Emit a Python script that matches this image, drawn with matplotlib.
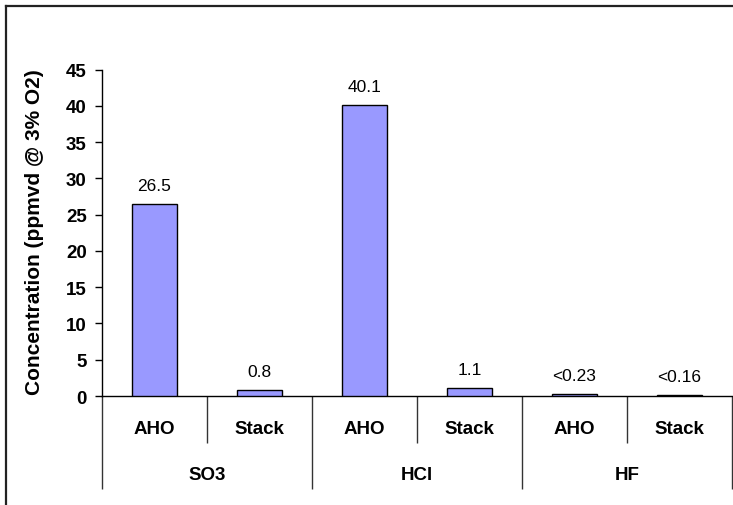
import matplotlib
matplotlib.use('Agg')
import matplotlib.pyplot as plt
from matplotlib.lines import Line2D
from matplotlib.ticker import FixedLocator

plt.rcParams['font.family'] = ['Liberation Sans', 'DejaVu Sans']

# data
groups = ['SO3', 'HCl', 'HF']
locations = ['AHO', 'Stack']
values = [26.5, 0.8, 40.1, 1.1, 0.23, 0.16]
value_labels = ['26.5', '0.8', '40.1', '1.1', '<0.23', '<0.16']
y_ticks = [0, 5, 10, 15, 20, 25, 30, 35, 40, 45]

W, H = 733, 506
fig = plt.figure(figsize=(W / 100, H / 100), dpi=100)

# plot area in pixel terms: x 102..732, y 70.7 (45) .. 397 (0)
ax = fig.add_axes([102 / W, 1 - 397 / H, 630 / W, (397 - 70.7) / H])

n = len(values)
xs = list(range(n))
ax.bar(xs, values, width=0.42, color='#9999FF', edgecolor='black', linewidth=1.0, zorder=3)

for x, v, lab in zip(xs, values, value_labels):
    ax.annotate(lab, (x, v), xytext=(0, 8), textcoords='offset points',
                ha='center', va='bottom', fontsize=12.5)

ax.set_xlim(-0.5, n - 0.5)
ax.set_ylim(0, 45)
ax.set_yticks(y_ticks)
ax.set_yticklabels([str(t) for t in y_ticks], fontsize=13.5, fontweight='bold')
ax.tick_params(axis='y', direction='out', length=5, width=1, pad=6)

for side in ['top', 'right']:
    ax.spines[side].set_visible(False)
ax.spines['left'].set_linewidth(1)
ax.spines['bottom'].set_linewidth(1)

# category separators drawn as tick marks: long ones between groups, short ones within
per_group = len(locations)
group_edges = [i * per_group - 0.5 for i in range(len(groups) + 1)]
inner_edges = [i * per_group + j - 0.5 for i in range(len(groups)) for j in range(1, per_group)]
ax.xaxis.set_major_locator(FixedLocator(group_edges))
ax.xaxis.set_minor_locator(FixedLocator(inner_edges))
ax.tick_params(axis='x', which='major', direction='out', length=67, width=1, color='#333333', labelbottom=False)
ax.tick_params(axis='x', which='minor', direction='out', length=34, width=1, color='#333333', labelbottom=False)

trans = ax.get_xaxis_transform()
for i, g in enumerate(groups):
    for j, loc in enumerate(locations):
        ax.text(i * per_group + j, -0.101, loc, transform=trans, ha='center', va='center',
                fontsize=13.5, fontweight='bold')
    ax.text(i * per_group + (per_group - 1) / 2, -0.242, g, transform=trans, ha='center', va='center',
            fontsize=13.5, fontweight='bold')

fig.text(35 / W, 1 - 232 / H, 'Concentration (ppmvd @ 3% O2)', rotation=90,
         ha='center', va='center', fontsize=15, fontweight='bold')

# outer chart frame
fig.add_artist(Line2D([6 / W, 6 / W], [0, 1 - 7 / H], transform=fig.transFigure, color='#222222', linewidth=1.6))
fig.add_artist(Line2D([6 / W, 1], [1 - 7 / H, 1 - 7 / H], transform=fig.transFigure, color='#222222', linewidth=1.6))

fig.savefig('out.png', dpi=100)
